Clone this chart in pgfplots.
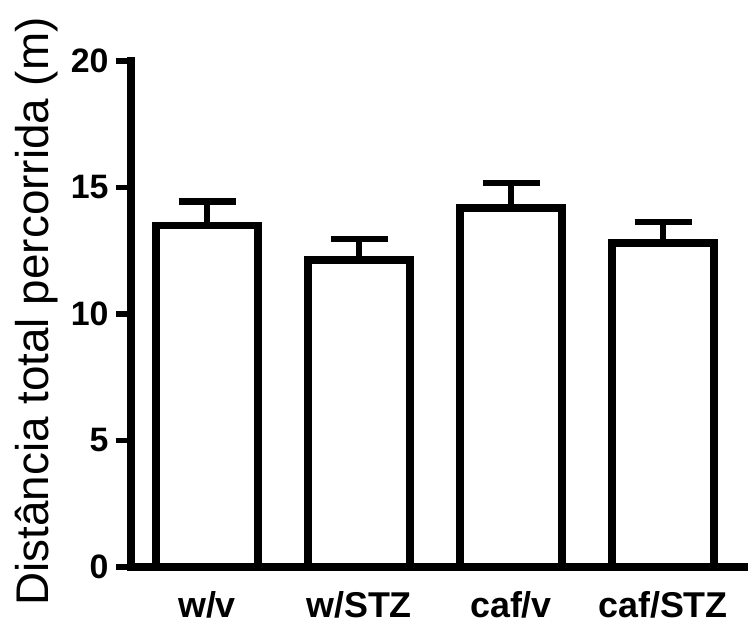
\documentclass[border=0pt]{standalone}
\usepackage{fontspec}
\setmainfont{Liberation Sans}
\usepackage{pgfplots}
\pgfplotsset{compat=1.18}
\begin{document}
\begin{tikzpicture}
\useasboundingbox (-131bp,-61bp) rectangle (617bp,567bp);
\begin{axis}[
 at={(0,0)}, anchor=south west,
 scale only axis, width=617bp, height=506bp,
 xmin=-0.5, xmax=3.559, ymin=0, ymax=20,
 axis x line=bottom, axis y line=left,
 axis line style={line width=7.5bp, -, line cap=rect},
 ytick={0,5,10,15,20},
 xtick={0,1,2,3}, xticklabels={w/v,w/STZ,caf/v,caf/STZ},
 tick align=outside, major tick length=15bp,
 y tick style={line width=5.5bp, black},
 x tick style={draw=none},
 yticklabel style={font=\fontsize{34}{38}\bfseries\selectfont, /pgf/number format/assume math mode=true, xshift=-4bp},
 xticklabel style={font=\fontsize{36}{40}\bfseries\selectfont, yshift=-6bp},
 ylabel={Distância total percorrida (m)},
 ylabel style={font=\fontsize{46}{52}\selectfont, at={(axis description cs:-0.1345,0.505)}, anchor=base},
 clip=false,
]
\addplot[ybar, bar width=102bp, fill=white, draw=black, line width=7.5bp,
  error bars/.cd, y dir=plus, y explicit,
  error bar style={line width=6.5bp, black},
  error mark options={rotate=90, mark size=28.5bp, line width=6.5bp, black}]
 coordinates {
 (0,13.50) +- (0,0.95)
 (1,12.13) +- (0,0.83)
 (2,14.19) +- (0,0.99)
 (3,12.80) +- (0,0.84)
 };
\end{axis}
\end{tikzpicture}
\end{document}
